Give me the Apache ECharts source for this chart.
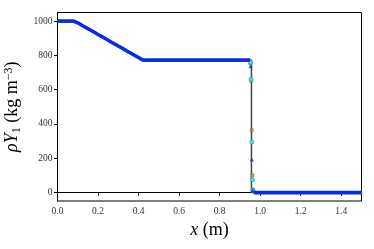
<!DOCTYPE html>
<html>
<head>
<meta charset="utf-8">
<script src="https://cdn.jsdelivr.net/npm/echarts@6/dist/echarts.min.js"></script>
<style>
  html, body { margin: 0; padding: 0; background: #fff; }
  #chart { width: 374px; height: 249px; }
</style>
</head>
<body>
<div id="chart"></div>
<script>
// smooth part left of the jump (shared by every numerical run)
var xLeft = [0, 0.02, 0.04, 0.06, 0.08, 0.10, 0.12, 0.14, 0.16, 0.18, 0.20, 0.22, 0.24, 0.26, 0.28,
  0.30, 0.32, 0.34, 0.36, 0.38, 0.40, 0.42, 0.44, 0.46, 0.48, 0.50, 0.52, 0.54, 0.56, 0.58,
  0.60, 0.62, 0.64, 0.66, 0.68, 0.70, 0.72, 0.74, 0.76, 0.78, 0.80, 0.82, 0.84, 0.86, 0.88,
  0.90, 0.92, 0.94, 0.95];
var yLeft = [1000, 1000, 1000, 1000, 1000, 990, 976, 963, 949, 936, 922, 909, 895, 881, 868,
  854, 841, 827, 814, 800, 787, 773, 773, 773, 773, 773, 773, 773, 773, 773,
  773, 773, 773, 773, 773, 773, 773, 773, 773, 773, 773, 773, 773, 773, 773,
  773, 773, 773, 773];
// right of the jump
var xRight = [0.968, 0.98, 1.00, 1.02, 1.04, 1.06, 1.08, 1.10, 1.12, 1.14, 1.16, 1.18, 1.20, 1.22, 1.24,
  1.26, 1.28, 1.30, 1.32, 1.34, 1.36, 1.38, 1.40, 1.42, 1.44, 1.46, 1.48, 1.50];
var yRight = [0, 0, 0, 0, 0, 0, 0, 0, 0, 0, 0, 0, 0, 0, 0,
  0, 0, 0, 0, 0, 0, 0, 0, 0, 0, 0, 0, 0];

// points inside the jump, per run
var xJumpGreen = [0.966, 0.97];
var yJumpGreen = [18, 8];
var xJumpOlive = [0.952, 0.955, 0.958, 0.962, 0.964];
var yJumpOlive = [755, 652, 363, 99, 12];
var xJumpCyan = [0.952, 0.955, 0.959, 0.962, 0.965];
var yJumpCyan = [760, 660, 295, 74, 16];
var xJumpBlue = [0.953, 0.959, 0.963];
var yJumpBlue = [737, 192, 14];

// exact solution
var xExact = [0, 0.085, 0.42, 0.957, 0.957, 1.5];
var yExact = [1000, 1000, 773, 773, 0, 0];

var xTicks = [0, 0.2, 0.4, 0.6, 0.8, 1.0, 1.2, 1.4];
var yTicks = [0, 200, 400, 600, 800, 1000];

function pairs(xs, ys) {
  return xs.map(function (x, i) { return [x, ys[i]]; });
}
// smooth parts with a break across the jump
function bulk() {
  return pairs(xLeft, yLeft).concat([[0.96, null]], pairs(xRight, yRight));
}

var font = 'Liberation Serif';
var green = '#2ca02c', olive = '#7a7a20', cyan = '#20c0c8', blue = '#0a2ae8';

var chart = echarts.init(document.getElementById('chart'));
chart.setOption({
  animation: false,
  grid: { left: 57.5, right: 12.5, top: 12.5, bottom: 48, show: true, borderColor: '#000', borderWidth: 1,
    outerBoundsMode: 'none', containLabel: false },
  xAxis: {
    type: 'value', min: 0, max: 1.5,
    name: '{i|x} (m)',
    nameLocation: 'middle', nameGap: 18,
    nameTextStyle: { fontFamily: font, fontSize: 18, color: '#000',
      rich: { i: { fontFamily: font, fontStyle: 'italic', fontSize: 18 } } },
    axisLine: { lineStyle: { color: '#000', width: 1 } },
    axisTick: { customValues: xTicks, length: 3.5, lineStyle: { color: '#000' } },
    axisLabel: { customValues: xTicks, fontFamily: font, fontSize: 9.5, color: '#333', margin: 5,
      formatter: function (v) { return v.toFixed(1); } },
    splitLine: { show: false }
  },
  yAxis: {
    type: 'value', min: -50, max: 1050,
    name: '{i|ρY}{sub|1} (kg m{sup|−3})',
    nameLocation: 'middle', nameGap: 29,
    nameTextStyle: { fontFamily: font, fontSize: 18, color: '#000',
      rich: {
        i: { fontFamily: font, fontStyle: 'italic', fontSize: 18 },
        sub: { fontFamily: font, fontSize: 12, verticalAlign: 'bottom', padding: [8, 0, 0, 0] },
        sup: { fontFamily: font, fontSize: 12, verticalAlign: 'top', padding: [0, 0, 8, 0] }
      } },
    axisLine: { show: true, lineStyle: { color: '#000', width: 1 } },
    axisTick: { show: true, customValues: yTicks, length: 3.5, lineStyle: { color: '#000' } },
    axisLabel: { customValues: yTicks, fontFamily: font, fontSize: 9.5, color: '#333', margin: 5,
      formatter: function (v) { return String(v); } },
    splitLine: { show: false }
  },
  series: [
    { type: 'line', data: pairs(xExact, yExact), showSymbol: false, z: 1,
      lineStyle: { color: '#444', width: 1.5 } },
    { type: 'line', data: bulk().map(function (p) { return [p[0] + 0.004, p[1] === null ? null : p[1] - 3]; }),
      symbol: 'none', connectNulls: false, z: 2, lineStyle: { color: green, width: 3 } },
    { type: 'scatter', data: pairs(xJumpGreen, yJumpGreen), symbol: 'circle', symbolSize: 3, z: 2,
      itemStyle: { color: green } },
    { type: 'scatter', data: pairs(xJumpOlive, yJumpOlive), symbol: 'rect', symbolSize: 3, z: 3,
      itemStyle: { color: '#a8a860', borderColor: olive, borderWidth: 0.8 } },
    { type: 'scatter', data: pairs(xJumpCyan, yJumpCyan), symbol: 'emptyCircle', symbolSize: 3, z: 4,
      itemStyle: { color: cyan, borderWidth: 0.8 } },
    { type: 'line', data: bulk(), symbol: 'none', connectNulls: false, z: 5,
      lineStyle: { color: blue, width: 3.5 } },
    { type: 'scatter', data: pairs(xJumpBlue, yJumpBlue), symbol: 'triangle', symbolSize: 4, z: 5,
      itemStyle: { color: blue } }
  ]
});
</script>
</body>
</html>
